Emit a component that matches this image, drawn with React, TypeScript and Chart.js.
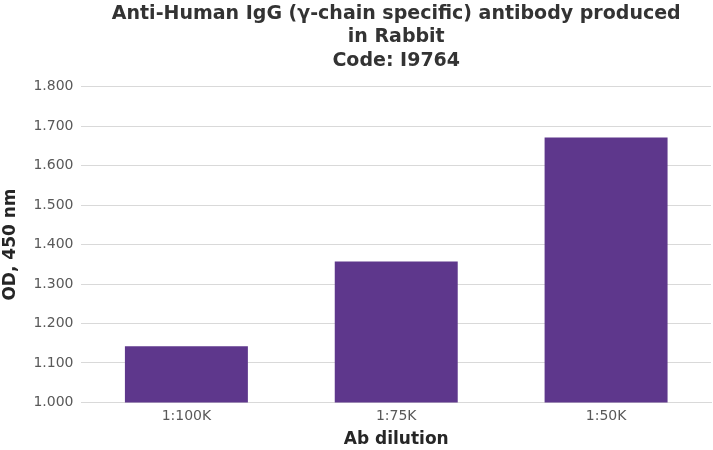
import { useEffect, useRef } from 'react'
import { Chart, registerables } from 'chart.js'

Chart.register(...registerables)

const dilutions = ['1:100K', '1:75K', '1:50K']
const odValues = [1.142, 1.357, 1.671]
const titleLines = ['Anti-Human IgG (γ-chain specific) antibody produced', 'in Rabbit', 'Code: I9764']

export default function App() {
  const canvasRef = useRef<HTMLCanvasElement>(null)
  const chartRef = useRef<Chart | null>(null)

  useEffect(() => {
    if (!canvasRef.current) return
    if (chartRef.current) chartRef.current.destroy()

    chartRef.current = new Chart(canvasRef.current, {
      type: 'bar',
      data: {
        labels: dilutions,
        datasets: [
          {
            label: 'OD',
            data: odValues,
            backgroundColor: '#5e378c',
            barPercentage: 0.586,
            categoryPercentage: 1,
          },
        ],
      },
      options: {
        animation: false,
        responsive: true,
        maintainAspectRatio: false,
        layout: { padding: { top: 2, right: 2, bottom: 0, left: 0 } },
        plugins: {
          legend: { display: false },
          tooltip: { enabled: false },
          title: {
            display: true,
            fullSize: false,
            text: titleLines,
            color: '#333333',
            font: { family: 'DejaVu Sans', size: 19, weight: 'bold', lineHeight: 1.24 },
            padding: { top: 0, bottom: 14 },
          },
        },
        scales: {
          x: {
            grid: { display: false, drawTicks: false },
            border: { color: '#d9d9d9' },
            ticks: { color: '#595959', font: { family: 'DejaVu Sans', size: 14, lineHeight: 0.8 }, padding: 8 },
            title: {
              display: true,
              text: 'Ab dilution',
              color: '#262626',
              font: { family: 'DejaVu Sans', size: 17, weight: 'bold' },
              padding: { top: 0, bottom: 0 },
            },
          },
          y: {
            min: 1.0,
            max: 1.8,
            ticks: {
              stepSize: 0.1,
              color: '#595959',
              font: { family: 'DejaVu Sans', size: 14 },
              padding: 8,
              callback: (v) => Number(v).toFixed(3),
            },
            grid: { color: '#d9d9d9', drawTicks: false },
            border: { display: false },
            title: {
              display: true,
              text: 'OD, 450 nm',
              color: '#262626',
              font: { family: 'DejaVu Sans', size: 17, weight: 'bold' },
              padding: { top: 0, bottom: 5 },
            },
          },
        },
      },
    })

    return () => {
      if (chartRef.current) {
        chartRef.current.destroy()
        chartRef.current = null
      }
    }
  }, [])

  return (
    <div style={{ position: 'fixed', left: 0, top: 0, width: 713, height: 450, background: '#fff' }}>
      <canvas ref={canvasRef}></canvas>
    </div>
  )
}
